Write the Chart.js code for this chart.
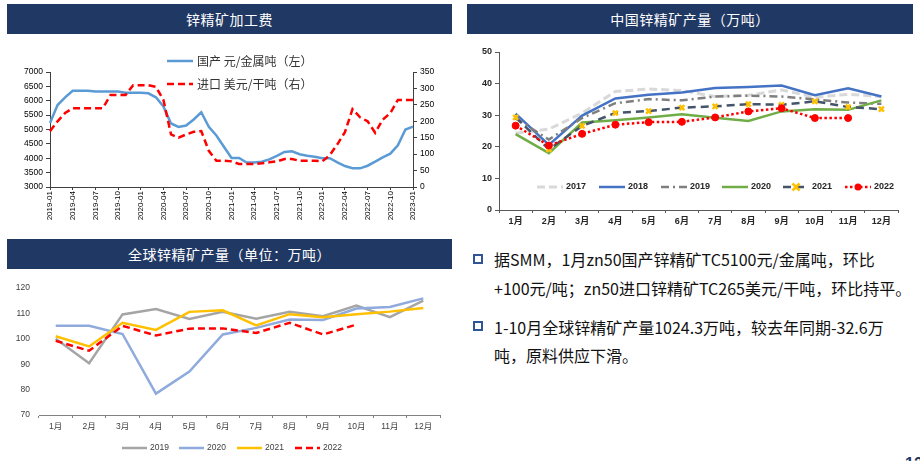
<!DOCTYPE html>
<html><head><meta charset="utf-8">
<script src="https://cdn.jsdelivr.net/npm/chart.js@4.4.0/dist/chart.umd.min.js"></script>
<style>
html,body{margin:0;padding:0;background:#fff;width:920px;height:461px;overflow:hidden;position:relative;font-family:"Noto Sans CJK SC",sans-serif;}
.bar{position:absolute;background:#1F3864;color:#fff;font-size:14px;text-align:center;height:30px;line-height:30px;letter-spacing:0.5px;}
canvas{position:absolute;}
.ln{position:absolute;white-space:nowrap;font-size:16px;line-height:20px;color:#111;}
.sq{position:absolute;width:10px;height:10px;box-sizing:border-box;border:2px solid #2F5597;}
.pg{position:absolute;left:905px;top:455px;font-size:16px;font-weight:bold;color:#1F3864;font-family:"Liberation Sans",sans-serif;}
</style></head>
<body>
<div class="bar" style="left:7px;top:4px;width:445px;">锌精矿加工费</div>
<div class="bar" style="left:467px;top:4px;width:446px;">中国锌精矿产量（万吨）</div>
<div class="bar" style="left:7px;top:239px;width:445px;">全球锌精矿产量（单位：万吨）</div>
<canvas id="c1" width="460" height="194" style="left:0;top:36px;"></canvas>
<canvas id="c2" width="460" height="194" style="left:460px;top:36px;"></canvas>
<canvas id="c3" width="460" height="191" style="left:0;top:270px;"></canvas>
<div class="sq" style="left:473px;top:254px;"></div>
<div class="ln" style="left:494px;top:249px;">据SMM，1月zn50国产锌精矿TC5100元/金属吨，环比</div>
<div class="ln" style="left:494px;top:278px;">+100元/吨；zn50进口锌精矿TC265美元/干吨，环比持平。</div>
<div class="sq" style="left:473px;top:321px;"></div>
<div class="ln" style="left:494px;top:317px;">1-10月全球锌精矿产量1024.3万吨，较去年同期-32.6万</div>
<div class="ln" style="left:494px;top:345px;">吨，原料供应下滑。</div>
<div class="pg">12</div>
<script>
// ---------- data ----------
const tcMonths = ['2019-01','2019-02','2019-03','2019-04','2019-05','2019-06','2019-07','2019-08','2019-09','2019-10','2019-11','2019-12',
 '2020-01','2020-02','2020-03','2020-04','2020-05','2020-06','2020-07','2020-08','2020-09','2020-10','2020-11','2020-12',
 '2021-01','2021-02','2021-03','2021-04','2021-05','2021-06','2021-07','2021-08','2021-09','2021-10','2021-11','2021-12',
 '2022-01','2022-02','2022-03','2022-04','2022-05','2022-06','2022-07','2022-08','2022-09','2022-10','2022-11','2022-12','2023-01'];
const tcDomestic = [5230,5850,6120,6350,6350,6350,6320,6320,6320,6320,6280,6280,
 6280,6260,6120,5800,5210,5090,5140,5350,5600,5090,4790,4400,
 4010,4010,3850,3850,3880,3960,4080,4220,4240,4140,4090,4050,
 4000,4000,3860,3730,3650,3650,3740,3880,4030,4160,4450,5000,5100];
const tcImport = [170,200,225,240,240,240,240,240,280,280,280,310,
 310,310,305,265,160,150,160,168,170,110,80,80,
 78,70,70,70,72,75,78,85,85,80,80,80,
 78,97,130,167,237,212,200,165,205,225,265,265,265];
const tcSeriesNames = ['国产 元/金属吨（左）','进口 美元/干吨（右）'];

const monthCats = ['1月','2月','3月','4月','5月','6月','7月','8月','9月','10月','11月','12月'];
const cn2017 = [24.3,25.6,30.7,37.5,38.3,37.8,35.9,36.3,38.0,35.7,36.6,35.9];
const cn2018 = [30.5,20.6,29.9,35.3,36.5,37.2,38.6,38.9,39.4,36.3,38.5,35.9];
const cn2019 = [29.0,22.3,29.1,33.8,35.1,34.7,35.9,36.2,35.9,35.0,34.0,33.6];
const cn2020 = [24.0,18.0,27.7,28.4,29.3,30.3,29.2,28.2,31.2,31.9,31.7,34.7];
const cn2021 = [29.3,19.2,26.6,30.7,31.3,32.4,32.8,33.5,33.3,34.4,32.6,31.9];
const cn2022 = [26.7,20.4,24.1,27.0,27.8,27.9,29.3,31.2,32.2,29.1,29.1,null];

const gl2019 = [100.0,90.4,109.6,111.7,107.8,110.6,107.9,110.6,108.9,113.1,108.5,115.0];
const gl2020 = [105.1,105.1,101.9,78.4,87.1,101.7,104.3,107.6,107.4,111.9,112.5,115.9];
const gl2021 = [101.0,97.0,106.3,103.5,110.6,111.2,105.3,109.7,108.5,109.7,110.7,112.1];
const gl2022 = [99.2,95.3,105.1,101.3,104.0,104.1,102.3,106.3,101.7,105.6];
const yearNames = ['2017','2018','2019','2020','2021','2022'];

// ---------- helpers ----------
const FAM = "'Liberation Sans','Noto Sans CJK SC',sans-serif";
Chart.defaults.animation = false;
Chart.defaults.font.family = FAM;
Chart.defaults.events = [];

function drawMarker(ctx, ds, x, y) {
  const r = ds.pointRadius;
  ctx.save();
  ctx.setLineDash([]);
  if (ds.pointStyle === 'crossRot') {
    ctx.strokeStyle = ds.pointBorderColor; ctx.lineWidth = ds.pointBorderWidth;
    ctx.beginPath();
    ctx.moveTo(x - r, y - r); ctx.lineTo(x + r, y + r);
    ctx.moveTo(x + r, y - r); ctx.lineTo(x - r, y + r);
    ctx.stroke();
  } else {
    ctx.fillStyle = ds.pointBackgroundColor;
    ctx.beginPath(); ctx.arc(x, y, r, 0, Math.PI * 2); ctx.fill();
  }
  ctx.restore();
}
const lineLegend = {
  id: 'lineLegend',
  afterDraw(chart, args, o) {
    if (!o || !o.items) return;
    const ctx = chart.ctx;
    o.items.forEach((it, i) => {
      const ds = chart.data.datasets[i];
      ctx.save();
      ctx.strokeStyle = ds.borderColor; ctx.lineWidth = ds.borderWidth;
      ctx.lineCap = ds.borderCapStyle || 'butt';
      ctx.setLineDash(ds.borderDash || []);
      ctx.beginPath(); ctx.moveTo(it.x, it.y); ctx.lineTo(it.x + o.lineLength, it.y); ctx.stroke();
      ctx.restore();
      if (ds.pointRadius > 0) drawMarker(ctx, ds, it.x + o.lineLength / 2, it.y);
      ctx.save();
      ctx.fillStyle = o.color; ctx.font = o.font;
      ctx.textBaseline = 'middle'; ctx.textAlign = 'left';
      ctx.fillText(ds.label, it.x + o.lineLength + o.gap, it.y);
      ctx.restore();
    });
  }
};
Chart.register(lineLegend);
const noPadV = w => s => { s.width = w; s.paddingTop = 0; s.paddingBottom = 0; };
const noPadH = h => s => { s.height = h; s.paddingLeft = 0; s.paddingRight = 0; };
const plain = v => String(v);

// ---------- chart 1 ----------
new Chart(document.getElementById('c1'), {
  type: 'line',
  data: { labels: tcMonths, datasets: [
    { label: tcSeriesNames[0], data: tcDomestic, yAxisID: 'y', borderColor: '#5B9BD5', borderWidth: 2.5, pointRadius: 0, tension: 0, order: 2 },
    { label: tcSeriesNames[1], data: tcImport, yAxisID: 'y1', borderColor: '#FF0000', borderWidth: 2.5, borderDash: [7, 4], pointRadius: 0, tension: 0, order: 1 }
  ]},
  options: {
    responsive: false, devicePixelRatio: 1,
    layout: { padding: { top: 36, left: 0, right: 0, bottom: 0 } },
    plugins: { legend: { display: false }, tooltip: { enabled: false },
      lineLegend: { items: [{ x: 167, y: 25 }, { x: 167, y: 48 }], lineLength: 26, gap: 4, font: "12px 'Noto Sans CJK SC'", color: '#333' } },
    scales: {
      x: { type: 'category', offset: false,
        grid: { drawOnChartArea: false, tickLength: 3, color: '#404040', offset: false },
        border: { color: '#404040' },
        ticks: { autoSkip: false, minRotation: 90, maxRotation: 90, padding: 1, color: '#000', font: { size: 8 },
          callback: function (v, i) { return i % 3 === 0 ? this.getLabelForValue(v) : null; } },
        afterFit: noPadH(43) },
      y: { position: 'left', min: 3000, max: 7000,
        grid: { drawOnChartArea: false, tickLength: 4, color: '#404040' }, border: { color: '#404040' },
        ticks: { stepSize: 500, padding: 3, color: '#000', font: { size: 8.5 }, callback: plain },
        afterFit: noPadV(50) },
      y1: { position: 'right', min: 0, max: 350,
        grid: { drawOnChartArea: false, tickLength: 4, color: '#404040' }, border: { color: '#404040' },
        ticks: { stepSize: 50, padding: 3, color: '#000', font: { size: 8.5 }, callback: plain },
        afterFit: noPadV(47) }
    }
  }
});

// ---------- chart 2 ----------
const cnStyles = [
  { borderColor: '#D9D9D9', borderWidth: 3, borderDash: [8, 4] },
  { borderColor: '#4472C4', borderWidth: 2.5 },
  { borderColor: '#7F7F7F', borderWidth: 2.5, borderDash: [8, 4, 2, 4] },
  { borderColor: '#70AD47', borderWidth: 2.5 },
  { borderColor: '#44546A', borderWidth: 2.5, borderDash: [8, 5], pointStyle: 'crossRot', pointRadius: 3.5, pointBorderColor: '#FFC000', pointBackgroundColor: '#FFC000', pointBorderWidth: 2.5 },
  { borderColor: '#FF0000', borderWidth: 2.5, borderDash: [2.5, 2.5], pointStyle: 'circle', pointRadius: 3.5, pointBorderColor: '#FF0000', pointBackgroundColor: '#FF0000', pointBorderWidth: 1 }
];
const cnData = [cn2017, cn2018, cn2019, cn2020, cn2021, cn2022];
new Chart(document.getElementById('c2'), {
  type: 'line',
  data: { labels: monthCats, datasets: cnData.map((d, i) => Object.assign({ label: yearNames[i], data: d, pointRadius: 0, tension: 0, order: 6 - i }, cnStyles[i])) },
  options: {
    responsive: false, devicePixelRatio: 1,
    layout: { padding: { top: 16, left: 0, right: 22, bottom: 0 } },
    plugins: { legend: { display: false }, tooltip: { enabled: false },
      lineLegend: { items: [{ x: 77, y: 151 }, { x: 139, y: 151 }, { x: 201, y: 151 }, { x: 262, y: 151 }, { x: 323, y: 151 }, { x: 385, y: 151 }],
        lineLength: 26, gap: 3, font: "bold 9px " + FAM, color: '#262626' } },
    scales: {
      x: { type: 'category', offset: true,
        grid: { drawOnChartArea: false, tickLength: 3, color: '#595959', offset: true }, border: { color: '#595959' },
        ticks: { padding: 3, color: '#262626', font: { size: 9, weight: 'bold' } },
        afterFit: noPadH(20) },
      y: { min: 0, max: 50,
        grid: { drawOnChartArea: false, tickLength: 4, color: '#595959' }, border: { color: '#595959' },
        ticks: { stepSize: 10, padding: 3, color: '#262626', font: { size: 9, weight: 'bold' }, callback: plain },
        afterFit: noPadV(39) }
    }
  }
});

// ---------- chart 3 ----------
const glStyles = [
  { borderColor: '#A5A5A5', borderWidth: 2.5 },
  { borderColor: '#8FAADC', borderWidth: 2.5 },
  { borderColor: '#FFC000', borderWidth: 2.5 },
  { borderColor: '#FF0000', borderWidth: 2.5, borderDash: [7, 4] }
];
const glData = [gl2019, gl2020, gl2021, gl2022];
new Chart(document.getElementById('c3'), {
  type: 'line',
  data: { labels: monthCats, datasets: glData.map((d, i) => Object.assign({ label: yearNames[i + 2], data: d, pointRadius: 0, tension: 0, order: 4 - i }, glStyles[i])) },
  options: {
    responsive: false, devicePixelRatio: 1,
    layout: { padding: { top: 18, left: 0, right: 20, bottom: 20 } },
    plugins: { legend: { display: false }, tooltip: { enabled: false },
      lineLegend: { items: [{ x: 122, y: 178 }, { x: 179, y: 178 }, { x: 237, y: 178 }, { x: 295, y: 178 }],
        lineLength: 25, gap: 3, font: "8.5px " + FAM, color: '#404040' } },
    scales: {
      x: { type: 'category', offset: true,
        grid: { drawOnChartArea: false, tickLength: 3, color: '#808080', offset: true }, border: { color: '#808080' },
        ticks: { padding: 4, color: '#404040', font: { size: 8.5 } },
        afterFit: noPadH(26) },
      y: { min: 70, max: 120,
        grid: { display: false, drawTicks: false }, border: { display: false },
        ticks: { stepSize: 10, padding: 9, color: '#404040', font: { size: 8.5 }, callback: plain },
        afterFit: noPadV(39) }
    }
  }
});
</script>
</body></html>
